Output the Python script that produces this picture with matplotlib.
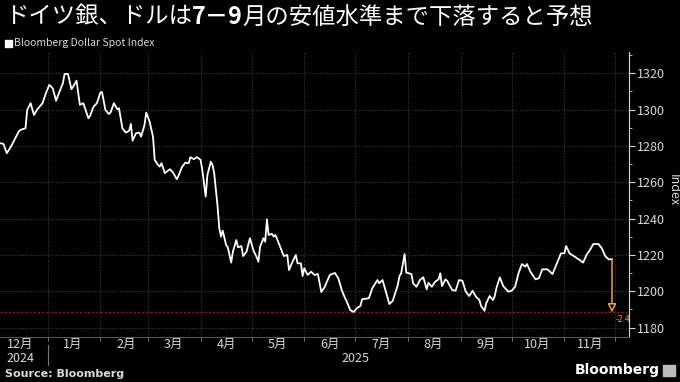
import matplotlib
matplotlib.use('Agg')
import matplotlib.pyplot as plt
import matplotlib.dates as mdates
import matplotlib.transforms as mtransforms
from matplotlib.patches import Rectangle
import pandas as pd

# Data (days counted from the first point)
start_date = '2024-12-04'
day_offsets = [0, 2, 4, 6, 8, 11, 12, 15, 16, 18, 20, 22, 25, 27, 29, 31, 33, 35, 37, 38,
               40, 42, 43, 45, 47, 49, 52, 53, 55, 57, 59, 60, 62, 64, 65, 67, 69, 70, 72, 74,
               76, 77, 78, 80, 82, 83, 85, 86, 88, 90, 91, 93, 94, 95, 97, 98, 100, 102, 104, 105,
               107, 109, 111, 112, 114, 116, 118, 119, 121, 122, 124, 125, 126, 128, 129, 130, 131, 133, 134, 136,
               137, 139, 140, 142, 143, 145, 147, 149, 151, 152, 153, 155, 156, 157, 158, 160, 161, 162, 164, 166,
               167, 169, 170, 172, 174, 175, 177, 178, 179, 181, 183, 185, 187, 189, 191, 194, 197, 199, 201, 203,
               204, 206, 208, 210, 212, 213, 217, 219, 222, 223, 225, 227, 229, 231, 234, 235, 236, 238, 239, 242,
               243, 245, 247, 249, 251, 252, 254, 256, 258, 259, 260, 262, 263, 266, 268, 270, 272, 274, 276, 278,
               280, 282, 283, 285, 286, 288, 290, 291, 292, 294, 296, 299, 301, 303, 305, 307, 309, 310, 312, 315,
               317, 319, 322, 325, 328, 330, 332, 333, 335, 338, 341, 343, 345, 347, 349, 352, 354, 356, 358, 360]
index_values = [1281.5, 1281.1, 1276.0, 1278.9, 1282.4, 1287.9, 1288.8, 1289.7, 1299.8, 1303.5,
                1297.0, 1300.2, 1303.5, 1309.0, 1313.6, 1311.7, 1304.9, 1309.9, 1314.5, 1319.6,
                1319.6, 1311.2, 1312.6, 1315.9, 1302.6, 1303.5, 1295.2, 1296.5, 1301.6, 1303.5,
                1309.3, 1309.7, 1299.8, 1297.6, 1298.3, 1303.5, 1300.2, 1300.7, 1289.7, 1287.3,
                1288.4, 1292.1, 1282.9, 1287.0, 1287.3, 1285.1, 1291.5, 1298.3, 1293.4, 1285.1,
                1272.3, 1269.5, 1268.6, 1270.5, 1265.0, 1265.8, 1267.2, 1265.0, 1261.7, 1263.5,
                1268.3, 1270.8, 1270.5, 1273.8, 1272.7, 1273.8, 1272.3, 1266.8, 1252.1, 1264.0,
                1271.3, 1269.5, 1265.0, 1246.6, 1234.7, 1230.1, 1233.4, 1225.5, 1224.2, 1215.8,
                1221.8, 1228.2, 1224.2, 1224.9, 1219.4, 1221.8, 1229.2, 1222.7, 1218.7, 1216.3,
                1224.6, 1229.2, 1227.3, 1239.6, 1231.0, 1231.6, 1230.1, 1231.0, 1226.4, 1221.6,
                1219.4, 1220.0, 1211.7, 1216.1, 1220.0, 1215.4, 1215.4, 1208.4, 1212.7, 1209.0,
                1210.8, 1209.0, 1209.5, 1199.6, 1202.4, 1209.0, 1210.1, 1207.2, 1200.7, 1196.2,
                1194.3, 1189.7, 1188.6, 1190.8, 1191.9, 1195.6, 1196.2, 1201.7, 1206.2, 1204.4,
                1206.2, 1199.8, 1193.0, 1194.7, 1203.5, 1208.4, 1209.9, 1220.5, 1210.3, 1209.5,
                1204.4, 1202.5, 1206.2, 1207.7, 1201.1, 1204.7, 1202.5, 1205.3, 1206.6, 1209.9,
                1202.9, 1206.6, 1205.8, 1200.7, 1200.3, 1206.2, 1205.8, 1199.8, 1197.4, 1200.3,
                1197.0, 1195.2, 1191.9, 1189.3, 1193.4, 1197.4, 1195.2, 1197.4, 1201.7, 1207.7,
                1202.9, 1199.8, 1200.3, 1202.5, 1209.9, 1215.0, 1213.6, 1215.0, 1210.8, 1206.6,
                1207.2, 1212.1, 1212.1, 1209.5, 1216.3, 1220.9, 1220.9, 1224.9, 1220.9, 1219.1,
                1217.2, 1215.8, 1220.0, 1222.7, 1226.0, 1226.0, 1223.7, 1219.4, 1217.6, 1217.6]
forecast_pct = -2.4
month_labels = ['12月', '1月', '2月', '3月', '4月', '5月', '6月', '7月', '8月', '9月', '10月', '11月']
year_labels = ['2024', '2025']
y_ticks = [1180, 1200, 1220, 1240, 1260, 1280, 1300, 1320]

TEXT = '#d9d9d9'
GRID = '#3c3c3c'
ORANGE = '#f2a33a'


def main():
    plt.rcParams['font.family'] = ['Noto Sans CJK JP', 'DejaVu Sans']

    dates = pd.Timestamp(start_date) + pd.to_timedelta(day_offsets, unit='D')
    last_date, last_val = dates[-1], index_values[-1]
    target = last_val * (1 + forecast_pct / 100)

    fig = plt.figure(figsize=(6.8, 3.82), dpi=100, facecolor='black')
    ax = fig.add_axes([0, 0.118, 0.925, 0.746], facecolor='black')

    # Series and forecast
    ax.plot(dates, index_values, color='white', lw=1.3, zorder=3)
    ax.axhline(target, color='#a01818', lw=1.0, ls=(0, (1.5, 1.5)), zorder=2)
    ax.annotate('', xy=(last_date, target), xytext=(last_date, last_val),
                arrowprops=dict(arrowstyle='-|>,head_width=0.25,head_length=0.5',
                                ec=ORANGE, fc='black', lw=1.1, shrinkA=0, shrinkB=0),
                zorder=4)
    ax.text(last_date + pd.Timedelta(days=2), target - 1.2, f'{forecast_pct}%',
            color=ORANGE, fontsize=6, va='top', ha='left', clip_on=True)

    # Axes limits
    ax.set_xlim(pd.Timestamp(start_date), pd.Timestamp(start_date) + pd.Timedelta(days=370))
    ax.set_ylim(1174.9, 1331.7)

    # Y axis on the right
    ax.yaxis.tick_right()
    ax.set_yticks(y_ticks)
    ax.set_yticks(range(1180, 1331, 10), minor=True)
    ax.tick_params(axis='y', which='major', colors=TEXT, labelsize=9, length=4, width=0.8, pad=2)
    ax.tick_params(axis='y', which='minor', colors=TEXT, length=2, width=0.6)
    fig.text(0.99, 0.503, 'Index', color=TEXT, fontsize=9, rotation=270,
             ha='center', va='center')

    # X axis: month boundaries as gridlines, labels mid-month
    ax.xaxis.set_major_locator(mdates.MonthLocator())
    ax.xaxis.set_major_formatter(plt.NullFormatter())
    ax.xaxis.set_minor_locator(mdates.MonthLocator(bymonthday=16))
    ax.xaxis.set_minor_formatter(plt.FixedFormatter(month_labels))
    ax.tick_params(axis='x', which='major', colors='#888888', length=3, width=0.6)
    ax.tick_params(axis='x', which='minor', colors=TEXT, length=0, labelsize=9, pad=1)

    ax.grid(True, which='major', color=GRID, lw=0.8, ls=(0, (1, 1.5)))
    for side in ['top', 'left']:
        ax.spines[side].set_visible(False)
    ax.spines['right'].set_color(TEXT)
    ax.spines['bottom'].set_color('#555555')

    # Year row under the months
    trans = mtransforms.blended_transform_factory(ax.transData, ax.transAxes)
    ax.text(mdates.date2num(pd.Timestamp('2024-12-16')), -0.074, year_labels[0], transform=trans,
            color=TEXT, fontsize=9, ha='center', va='center')
    ax.text(mdates.date2num(pd.Timestamp('2025-07-01')), -0.074, year_labels[1], transform=trans,
            color=TEXT, fontsize=9, ha='center', va='center')
    jan1 = mdates.date2num(pd.Timestamp('2025-01-01'))
    ax.plot([jan1, jan1], [-0.03, -0.1], transform=trans, color='#777777', lw=0.8, clip_on=False)

    # Title, bold part chained after the regular part
    t1 = fig.text(0.007, 0.955, 'ドイツ銀、ドルは', color='white', fontsize=16.8, va='center')
    t2 = ax.annotate('7－9', xy=(1, 0), xycoords=t1, va='bottom', ha='left',
                     color='white', fontsize=16.8, fontweight='bold', annotation_clip=False)
    ax.annotate('月の安値水準まで下落すると予想', xy=(1, 0), xycoords=t2, va='bottom', ha='left',
                color='white', fontsize=16.8, annotation_clip=False)

    # Legend
    fig.patches.append(Rectangle((0.008, 0.878), 0.009, 0.017, transform=fig.transFigure,
                                 color='white'))
    fig.text(0.021, 0.887, 'Bloomberg Dollar Spot Index', color=TEXT, fontsize=7.5, va='center')

    # Footer
    fig.text(0.008, 0.008, 'Source: Bloomberg', color=TEXT, fontsize=8, fontweight='bold',
             va='bottom', family='DejaVu Sans')
    fig.text(0.97, 0.012, 'Bloomberg', color='white', fontsize=10, fontweight='bold',
             ha='right', va='bottom', family='DejaVu Sans')
    fig.patches.append(Rectangle((0.975, 0.015), 0.017, 0.03, transform=fig.transFigure,
                                 color='#bbbbbb'))

    fig.savefig('out.png', dpi=100, facecolor='black')


if __name__ == "__main__":
    main()
